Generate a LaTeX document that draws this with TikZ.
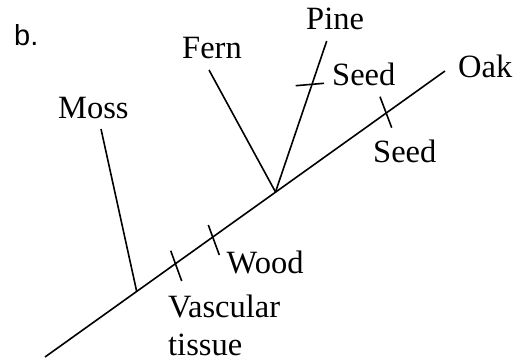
\documentclass[tikz,border=0pt]{standalone}
\usepackage{fontspec}
\setmainfont{Liberation Serif}
\newfontfamily\labsans{Liberation Sans}
\begin{document}
\begin{tikzpicture}[x=1pt,y=-1pt,
  branch/.style={line width=1.6pt},
  lab/.style={inner sep=0pt,anchor=base west,font=\fontsize{32.5}{38}\selectfont}]
\useasboundingbox (0,0) rectangle (514,363);
% main axis
\coordinate (root) at (45,357);
\coordinate (oakend) at (445,71);
\coordinate (mossj) at (136.7,291.5);
\coordinate (junc) at (275.5,192);
\coordinate (mosstop) at (101,129);
\coordinate (ferntop) at (209,70);
\coordinate (pinetop) at (326.7,41);
\draw[branch] (root) -- (oakend);
\draw[branch] (mossj) -- (mosstop);
\draw[branch] (junc) -- (ferntop);
\draw[branch] (junc) -- (pinetop);
% ticks
\coordinate (vt1) at (170.7,250.7); \coordinate (vt2) at (181.7,281);
\coordinate (wt1) at (208.3,225); \coordinate (wt2) at (219.3,255);
\coordinate (pt1) at (295.7,85.7); \coordinate (pt2) at (324,83.3);
\coordinate (ot1) at (380,96.7); \coordinate (ot2) at (391.7,127.7);
\draw[branch] (vt1) -- (vt2);
\draw[branch] (wt1) -- (wt2);
\draw[branch] (pt1) -- (pt2);
\draw[branch] (ot1) -- (ot2);
% labels
\node[lab,font=\labsans\fontsize{29}{34}\selectfont] (b) at (14,46) {b.};
\node[lab] (moss) at (58,119) {Moss};
\node[lab] (fern) at (182,59) {Fern};
\node[lab] (pine) at (306,30) {Pine};
\node[lab] (seedp) at (332,86) {Seed};
\node[lab] (oak) at (458,78) {Oak};
\node[lab] (seedo) at (373,163) {Seed};
\node[lab] (wood) at (226.5,274) {Wood};
\node[lab] (vasc) at (168,317) {Vascular};
\node[lab] (tiss) at (168,355) {tissue};
\end{tikzpicture}
\end{document}
